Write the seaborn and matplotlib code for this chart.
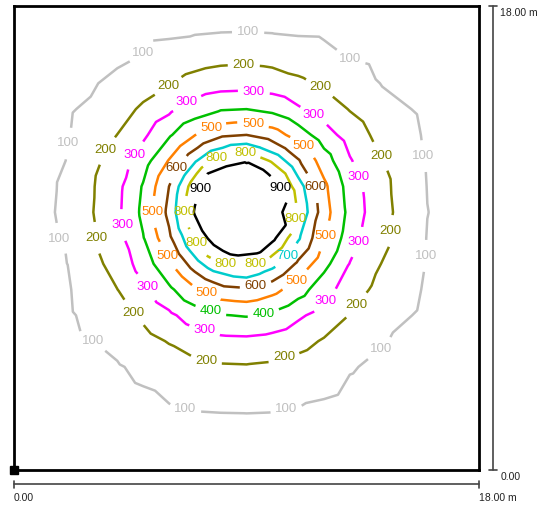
import matplotlib
matplotlib.use('Agg')
import numpy as np
import matplotlib.pyplot as plt
import seaborn as sns

# room and measuring grid (metres)
room_size = 18.0
grid_x = [0, 2, 4, 5, 6, 7, 8, 9, 10, 11, 12, 13, 14, 16, 18]
grid_y = [0, 2, 4, 5, 6, 7, 8, 9, 10, 11, 12, 13, 14, 15, 16, 17, 18]

# illuminance values (lux), one row per grid_y
lux = [
    [29, 37, 44, 48, 52, 54, 55, 56, 55, 53, 51, 47, 43, 36, 29],
    [37, 48, 60, 70, 79, 86, 89, 90, 88, 83, 76, 66, 59, 46, 36],
    [45, 61, 93, 118, 151, 175, 189, 192, 184, 166, 140, 106, 88, 59, 43],
    [49, 73, 123, 167, 206, 247, 272, 276, 263, 232, 191, 153, 110, 69, 48],
    [54, 84, 164, 218, 280, 348, 395, 407, 379, 318, 259, 197, 148, 80, 52],
    [57, 88, 199, 277, 379, 486, 567, 585, 535, 446, 338, 252, 182, 89, 56],
    [59, 96, 239, 342, 486, 651, 797, 833, 738, 581, 432, 297, 212, 96, 58],
    [61, 106, 266, 395, 579, 824, 963, 975, 929, 715, 506, 347, 239, 97, 60],
    [62, 110, 278, 423, 627, 910, 988, 995, 969, 791, 544, 370, 250, 101, 60],
    [61, 108, 272, 409, 600, 867, 977, 987, 955, 750, 523, 357, 243, 98, 60],
    [60, 100, 245, 354, 506, 685, 852, 891, 785, 610, 449, 309, 219, 94, 58],
    [57, 90, 201, 281, 386, 497, 581, 600, 550, 455, 345, 256, 184, 88, 56],
    [53, 84, 162, 215, 277, 342, 391, 400, 373, 313, 256, 195, 147, 79, 52],
    [49, 71, 117, 160, 195, 235, 258, 263, 250, 220, 183, 146, 103, 67, 47],
    [43, 59, 88, 104, 136, 159, 173, 176, 168, 151, 125, 97, 84, 58, 42],
    [39, 52, 69, 81, 86, 92, 98, 100, 96, 90, 88, 78, 66, 51, 38],
    [35, 44, 56, 61, 69, 75, 79, 80, 78, 73, 66, 60, 55, 43, 34],
]

# extra measuring points in the bright middle (cell centres)
mid_x = [6.5, 7.5, 8.5, 9.5, 10.5]
mid_y = [7.5, 8.5, 9.5, 10.5, 11.5, 12.5]
mid_lux = [
    [499, 626, 698, 675, 575],
    [634, 846, 937, 916, 756],
    [741, 958, 989, 985, 904],
    [761, 965, 994, 988, 917],
    [665, 900, 961, 947, 801],
    [518, 653, 734, 705, 596],
]

levels = [100, 200, 300, 400, 500, 600, 700, 800, 900]
level_colors = ['#c0c0c0', '#808000', '#ff00ff', '#00c000', '#ff8000',
                '#804000', '#00cccc', '#c0c000', '#000000']

# where the isoline labels sit (metres)
label_spots = {
    100: [(9.06, 16.95), (5.23, 16.02), (12.93, 15.71), (15.60, 12.14), (2.25, 12.65),
          (1.55, 8.88), (15.95, 8.30), (3.06, 5.04), (14.29, 4.54), (6.66, 2.56), (10.53, 2.44)],
    200: [(8.90, 15.59), (6.00, 14.86), (11.73, 14.62), (3.72, 12.26), (14.13, 12.14),
          (3.14, 9.00), (14.60, 9.27), (4.68, 6.13), (13.20, 6.44), (7.47, 4.46), (10.41, 4.50)],
    300: [(9.25, 14.51), (6.85, 14.04), (11.50, 13.58), (4.96, 12.02), (13.05, 11.25),
          (4.22, 9.50), (13.24, 8.88), (5.07, 7.06), (12.16, 6.44), (7.36, 5.35)],
    400: [(7.59, 6.09), (9.68, 5.93)],
    500: [(7.59, 13.34), (9.25, 13.42), (11.15, 12.49), (5.38, 10.01), (12.16, 9.04),
          (5.85, 8.26), (10.88, 7.37), (7.43, 6.87)],
    600: [(6.27, 11.71), (11.69, 10.98), (9.37, 7.06)],
    700: [(10.61, 8.26)],
    800: [(7.70, 12.30), (8.94, 12.41), (6.62, 10.01), (10.80, 9.78), (7.08, 8.81),
          (8.17, 7.95), (9.37, 7.91)],
    900: [(7.08, 10.98), (10.41, 10.98)],
}

sns.set_theme(style='white')
plt.rcParams['font.family'] = ['Liberation Sans', 'DejaVu Sans']

# all measuring points as flat lists
gx, gy = np.meshgrid(grid_x, grid_y)
mx, my = np.meshgrid(mid_x, mid_y)
pts_x = np.concatenate([gx.ravel(), mx.ravel()])
pts_y = np.concatenate([gy.ravel(), my.ravel()])
pts_z = np.concatenate([np.array(lux).ravel(), np.array(mid_lux).ravel()])

fig = plt.figure(figsize=(5.39, 5.08), dpi=100)
ax = fig.add_axes([14 / 539, 38 / 508, 465 / 539, 464 / 508])

for lvl, col in zip(levels, level_colors):
    cs = ax.tricontour(pts_x, pts_y, pts_z, levels=[lvl], colors=[col], linewidths=1.8)
    texts = cs.clabel(manual=label_spots[lvl], inline=True, fmt='%d',
                      fontsize=9.5, inline_spacing=5)
    for t in texts:
        t.set_rotation(0)

ax.set_xlim(0, room_size)
ax.set_ylim(0, room_size)
ax.set_xticks([])
ax.set_yticks([])
for s in ax.spines.values():
    s.set_color('black')
    s.set_linewidth(2)

# origin marker
ax.plot([0], [0], marker='s', ms=6, color='black', clip_on=False, zorder=10)

# scale bars
bar_col = '#444444'
ax.plot([0, room_size], [-0.54, -0.54], color=bar_col, lw=1.2, clip_on=False)
for xe in (0, room_size):
    ax.plot([xe, xe], [-0.42, -0.70], color=bar_col, lw=1.2, clip_on=False)
ax.text(0, -1.09, '0.00', ha='left', va='center', fontsize=7.5, color='#222222')
ax.text(room_size, -1.09, '18.00 m', ha='left', va='center', fontsize=7.5, color='#222222')

ax.plot([18.54, 18.54], [0, room_size], color=bar_col, lw=1.2, clip_on=False)
for ye in (0, room_size):
    ax.plot([18.39, 18.70], [ye, ye], color=bar_col, lw=1.2, clip_on=False)
ax.text(18.82, 17.73, '18.00 m', ha='left', va='center', fontsize=7.5, color='#222222')
ax.text(18.82, -0.27, '0.00', ha='left', va='center', fontsize=7.5, color='#222222')

fig.savefig('out.png', dpi=100)
